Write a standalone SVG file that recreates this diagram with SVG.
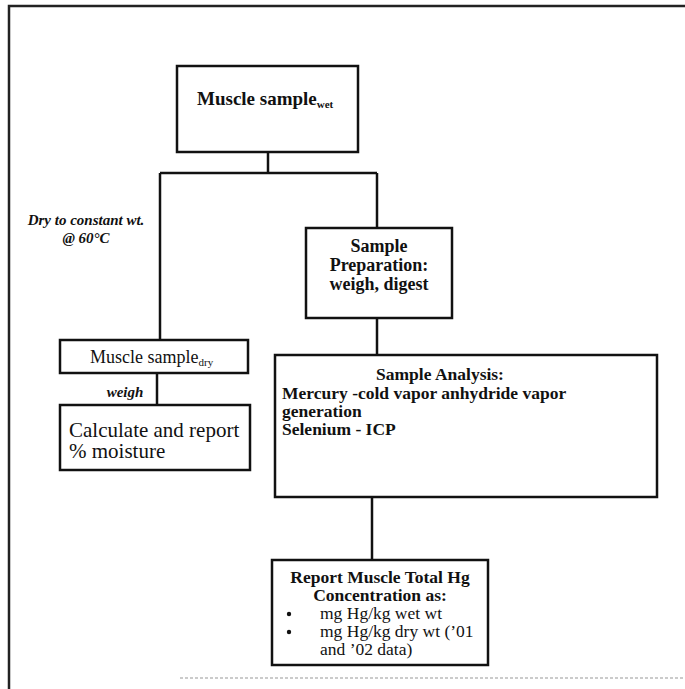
<svg xmlns="http://www.w3.org/2000/svg" width="685" height="689" viewBox="0 0 685 689">
  <style>
    .box { fill: #ffffff; stroke: #111111; stroke-width: 2.5; }
    .wire { fill: none; stroke: #111111; stroke-width: 2.5; }
    .frame { fill: none; stroke: #222222; stroke-width: 2.5; }
    text { font-family: "Liberation Serif", "Times New Roman", serif; fill: #111111; }
    .b { font-weight: bold; }
    .lbl { font-weight: bold; font-style: italic; font-size: 15px; }
    .t17 { font-size: 17.5px; }
    .t18 { font-size: 18px; }
    .t19 { font-size: 19px; }
    .t21 { font-size: 21px; }
    .sub { font-size: 11px; }
  </style>
  <rect width="685" height="689" fill="#ffffff"/>

  <!-- page frame -->
  <g id="frame">
    <path class="frame" d="M9,689 V6 H685"/>
    <path d="M180,678 H685" stroke="#bbbbbb" stroke-width="1.5" stroke-dasharray="3 2" fill="none"/>
  </g>

  <!-- connectors and their labels -->
  <g id="connectors">
    <path class="wire" d="M268,152 V173"/>
    <path class="wire" d="M160,173 H377"/>
    <path class="wire" d="M160,173 V340"/>
    <path class="wire" d="M377,173 V228"/>
    <path class="wire" d="M157,373 V405"/>
    <path class="wire" d="M377,318 V355"/>
    <path class="wire" d="M372,497 V560"/>
    <text class="lbl" x="86" y="225" text-anchor="middle">Dry to constant wt.</text>
    <text class="lbl" x="86" y="243" text-anchor="middle">@ 60°C</text>
    <text class="lbl" x="125" y="397" text-anchor="middle">weigh</text>
  </g>

  <g id="wet-sample">
    <rect class="box" x="177" y="66" width="181" height="86"/>
    <text class="b t19" x="197" y="105">Muscle sample<tspan class="sub" dy="3">wet</tspan></text>
  </g>

  <g id="sample-prep">
    <rect class="box" x="306" y="228" width="146" height="90"/>
    <text class="b t18" x="379" y="252" text-anchor="middle">Sample</text>
    <text class="b t18" x="379" y="271" text-anchor="middle">Preparation:</text>
    <text class="b t18" x="379" y="290" text-anchor="middle">weigh, digest</text>
  </g>

  <g id="dry-sample">
    <rect class="box" x="60" y="340" width="188" height="33"/>
    <text class="t18" x="90" y="363">Muscle sample<tspan class="sub" dy="3">dry</tspan></text>
  </g>

  <g id="moisture">
    <rect class="box" x="60" y="405" width="190" height="65"/>
    <text class="t21" x="69" y="437">Calculate and report</text>
    <text class="t21" x="69" y="458">% moisture</text>
  </g>

  <g id="analysis">
    <rect class="box" x="275" y="355" width="382" height="142"/>
    <text class="b t17" x="440" y="380" text-anchor="middle">Sample Analysis:</text>
    <text class="b t17" x="282" y="399">Mercury -cold vapor anhydride vapor</text>
    <text class="b t17" x="282" y="417">generation</text>
    <text class="b t17" x="282" y="435">Selenium - ICP</text>
  </g>

  <g id="report">
    <rect class="box" x="272" y="560" width="216" height="105"/>
    <text class="b t17" x="380" y="583" text-anchor="middle">Report Muscle Total Hg</text>
    <text class="b t17" x="380" y="601" text-anchor="middle">Concentration as:</text>
    <circle cx="289" cy="614" r="2.2" fill="#111111"/>
    <circle cx="289" cy="632" r="2.2" fill="#111111"/>
    <text class="t17" x="320" y="619">mg Hg/kg wet wt</text>
    <text class="t17" x="320" y="637">mg Hg/kg dry wt (’01</text>
    <text class="t17" x="320" y="655">and ’02 data)</text>
  </g>
</svg>
